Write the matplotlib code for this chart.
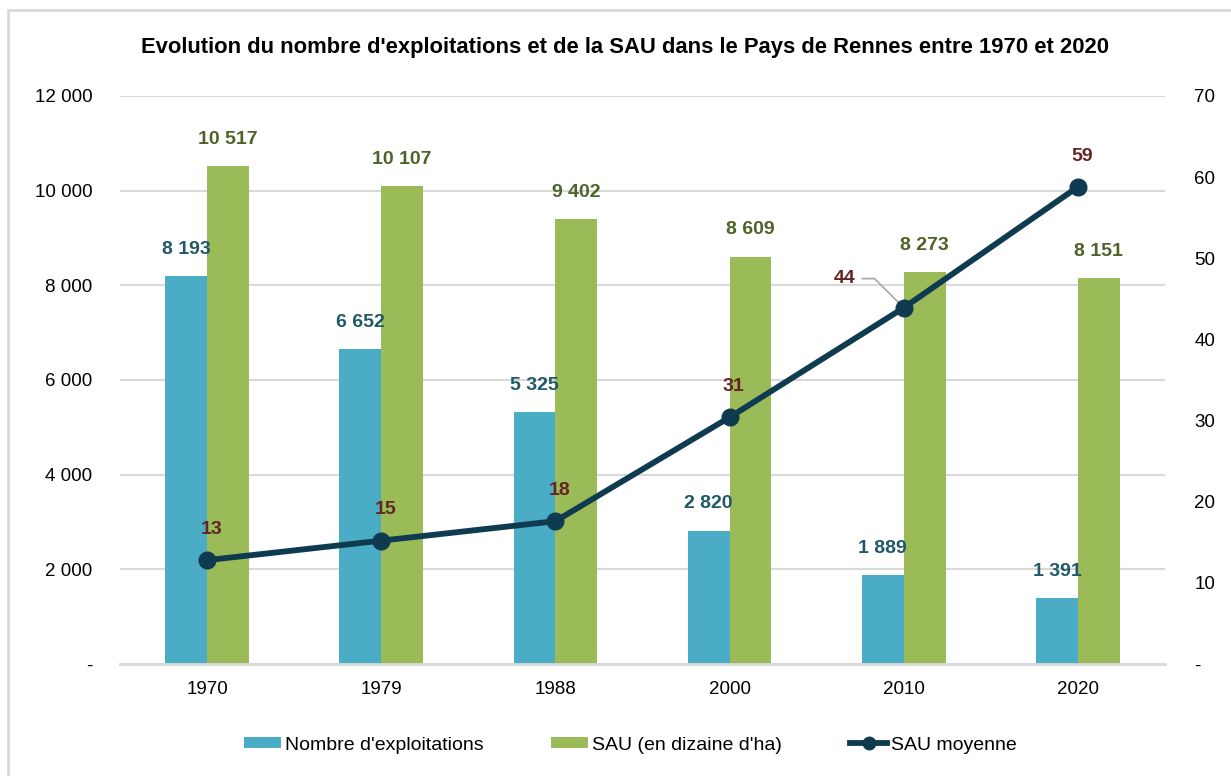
import matplotlib.pyplot as plt
from matplotlib.patches import Rectangle
from matplotlib.ticker import FixedLocator

plt.rcParams["font.family"] = ["Liberation Sans Narrow", "Liberation Sans", "DejaVu Sans"]

years = ["1970", "1979", "1988", "2000", "2010", "2020"]
nb_exploitations = [8193, 6652, 5325, 2820, 1889, 1391]
sau_dizaine_ha = [10517, 10107, 9402, 8609, 8273, 8151]
sau_moyenne = [12.8, 15.2, 17.6, 30.4, 43.9, 58.8]
sau_moyenne_labels = ["13", "15", "18", "31", "44", "59"]

BLUE, GREEN, NAVY = "#4bacc6", "#9bbb59", "#0f3b50"
BLUE_TXT, GREEN_TXT, RED_TXT = "#215968", "#4f6228", "#632523"
GRID = "#d9d9d9"


def fmt(v):
    return f"{v:,}".replace(",", " ")


fig = plt.figure(figsize=(12.31, 7.76), dpi=100)
fig.patches.append(Rectangle((8 / 1231, -0.1), 1.2, 1 - 10 / 776 + 0.1, transform=fig.transFigure,
                             fill=False, edgecolor=GRID, linewidth=2))

ax = fig.add_axes([120 / 1231, 1 - 664 / 776, 1045 / 1231, 568 / 776])
ax2 = ax.twinx()

x = list(range(len(years)))
w = 0.24
b1 = ax.bar([i - w / 2 for i in x], nb_exploitations, width=w, color=BLUE, label="Nombre d'exploitations", zorder=2)
b2 = ax.bar([i + w / 2 for i in x], sau_dizaine_ha, width=w, color=GREEN, label="SAU (en dizaine d'ha)", zorder=2)

for bar, v in zip(b1, nb_exploitations):
    ax.annotate(fmt(v), (bar.get_x() + bar.get_width() / 2, v), xytext=(0, 13), textcoords="offset points",
                ha="center", va="bottom", fontsize=14, fontweight="bold", color=BLUE_TXT)
for bar, v in zip(b2, sau_dizaine_ha):
    ax.annotate(fmt(v), (bar.get_x() + bar.get_width() / 2, v), xytext=(0, 13), textcoords="offset points",
                ha="center", va="bottom", fontsize=14, fontweight="bold", color=GREEN_TXT)

ax.set_xlim(-0.5, len(years) - 0.5)
ax.set_ylim(0, 12000)
ax.yaxis.set_major_locator(FixedLocator(range(0, 12001, 2000)))
ax.set_yticklabels(["-"] + [fmt(v) for v in range(2000, 12001, 2000)])
ax.set_xticks(x)
ax.set_xticklabels(years)
ax.grid(axis="y", color=GRID, linewidth=1.5, zorder=0)
ax.set_axisbelow(True)
for s in ["top", "right", "left"]:
    ax.spines[s].set_visible(False)
ax.spines["bottom"].set_color(GRID)
ax.spines["bottom"].set_linewidth(2)
ax.tick_params(length=0, labelsize=13.5, colors="#000000")
ax.tick_params(axis="y", pad=20)
ax.tick_params(axis="x", pad=12)

line, = ax2.plot(x, sau_moyenne, color=NAVY, linewidth=4.2, marker="o", markersize=12,
                 label="SAU moyenne", zorder=5)
ax2.set_ylim(0, 70)
ax2.yaxis.set_major_locator(FixedLocator(range(0, 71, 10)))
ax2.set_yticklabels(["-"] + [str(v) for v in range(10, 71, 10)])
for s in ax2.spines.values():
    s.set_visible(False)
ax2.tick_params(length=0, labelsize=13.5, pad=21)

for i, (v, lab) in enumerate(zip(sau_moyenne, sau_moyenne_labels)):
    if lab == "44":
        ax2.annotate(lab, (i, v), xytext=(-35, 21), textcoords="offset points", ha="right", va="center",
                     fontsize=14, fontweight="bold", color=RED_TXT,
                     arrowprops=dict(arrowstyle="-", color="#a6a6a6", linewidth=1.2,
                                     connectionstyle="angle,angleA=0,angleB=135,rad=0",
                                     shrinkA=3, shrinkB=5))
    else:
        ax2.annotate(lab, (i, v), xytext=(3, 16), textcoords="offset points", ha="center", va="bottom",
                     fontsize=14, fontweight="bold", color=RED_TXT)

fig.text(0.508, 1 - 48 / 776, "Evolution du nombre d'exploitations et de la SAU dans le Pays de Rennes entre 1970 et 2020",
         ha="center", va="center", fontsize=15.8, fontweight="bold")

fig.legend(handles=[b1, b2, line], loc="center", bbox_to_anchor=(0.512, 1 - 745 / 776), ncol=3, frameon=False,
           fontsize=14, handlelength=1.9, handleheight=0.55, columnspacing=3.5, handletextpad=0.2,
           markerscale=0.75)

fig.savefig("out.png", dpi=100)
